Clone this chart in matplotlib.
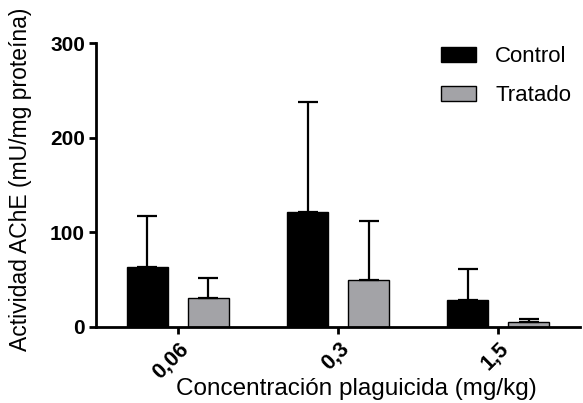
import numpy as np
import matplotlib.pyplot as plt

plt.rcParams['font.family'] = ['Liberation Sans', 'DejaVu Sans']

concentraciones = ['0,06', '0,3', '1,5']
control = [63, 122, 29]
control_err = [54, 116, 32]
tratado = [31, 50, 5]
tratado_err = [21, 62, 3.5]

fig = plt.figure(figsize=(5.83, 4.03), dpi=100)
ax = fig.add_axes([0.1647, 0.1886, 0.8303, 0.7044])

x = np.arange(len(concentraciones))
ancho = 0.256
desp = 0.19

ax.bar(x - desp, control, ancho, color='black', edgecolor='black', linewidth=1, label='Control',
       yerr=[np.zeros(3), control_err], capsize=7,
       error_kw=dict(elinewidth=1.6, capthick=1.6, ecolor='black'))
ax.bar(x + desp, tratado, ancho, color='#a3a3a7', edgecolor='black', linewidth=1, label='Tratado',
       yerr=[np.zeros(3), tratado_err], capsize=7,
       error_kw=dict(elinewidth=1.6, capthick=1.6, ecolor='black'))

ax.set_xlim(-0.51, 2.51)
ax.set_ylim(0, 300)
ax.set_yticks([0, 100, 200, 300])
ax.set_xticks(x)
ax.set_xticklabels(concentraciones, rotation=45, ha='right', rotation_mode='anchor',
                   fontsize=15.5, fontweight='bold')
for lbl in ax.get_yticklabels():
    lbl.set_fontweight('bold')
    lbl.set_fontsize(15)

ax.spines['top'].set_visible(False)
ax.spines['right'].set_visible(False)
ax.spines['left'].set_linewidth(2)
ax.spines['bottom'].set_linewidth(2)
ax.tick_params(axis='both', width=2, length=5, pad=3)

ax.set_ylabel('Actividad AChE (mU/mg proteína)', fontsize=16.5, va='center')
ax.set_xlabel('Concentración plaguicida (mg/kg)', fontsize=17.5)
ax.xaxis.set_label_coords(0.537, -0.18)
ax.yaxis.set_label_coords(-0.155, 0.52)

ax.legend(loc='upper left', bbox_to_anchor=(0.713, 0.99), frameon=False, fontsize=16,
          borderpad=0, borderaxespad=0,
          handlelength=1.58, handleheight=0.68, handletextpad=0.85, labelspacing=0.82)

fig.savefig('out.png', dpi=100)
